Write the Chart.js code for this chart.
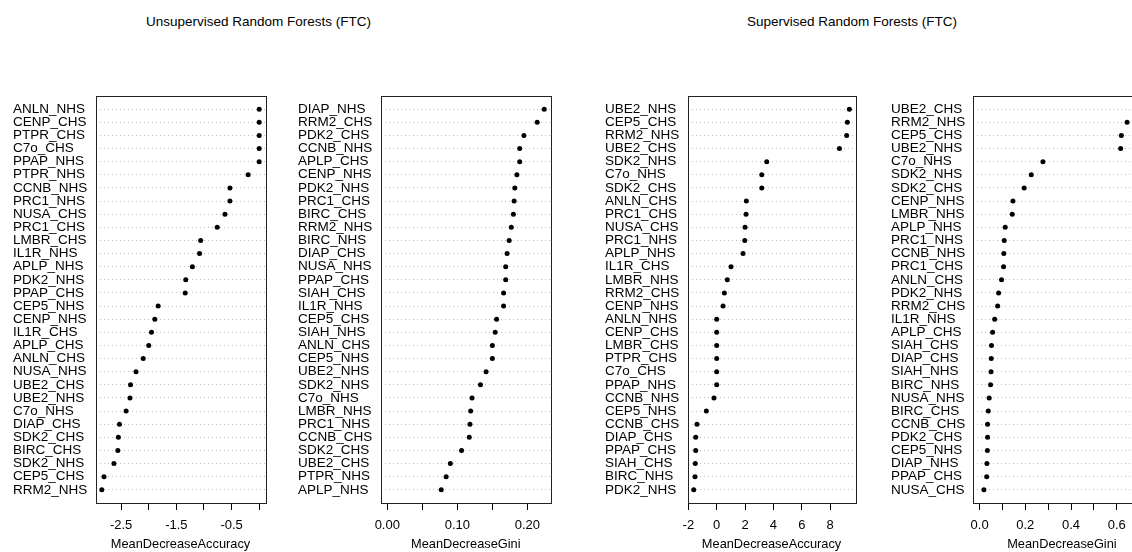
<!DOCTYPE html>
<html>
<head>
<meta charset="utf-8">
<script src="https://cdn.jsdelivr.net/npm/chart.js@4.4.1/dist/chart.umd.min.js"></script>
<style>
  html, body { margin: 0; padding: 0; width: 1132px; height: 552px; overflow: hidden; background: #fff; }
  .title { position: absolute; top: 14px; line-height: 16px; font-size: 13.5px; font-family: "Liberation Sans", Arial, sans-serif; color: #000; white-space: nowrap; }
  canvas { position: absolute; }
</style>
</head>
<body>
<div class="title" style="left:146px">Unsupervised Random Forests (FTC)</div>
<div class="title" style="left:747px">Supervised Random Forests (FTC)</div>
<canvas id="unsupAccChart"></canvas>
<canvas id="unsupGiniChart"></canvas>
<canvas id="supAccChart"></canvas>
<canvas id="supGiniChart"></canvas>
<script>
const FONT = '"Liberation Sans", Arial, sans-serif';

// ================= DATA =================
const unsupAccLabels = ["ANLN_NHS", "CENP_CHS", "PTPR_CHS", "C7o_CHS", "PPAP_NHS", "PTPR_NHS", "CCNB_NHS", "PRC1_NHS", "NUSA_CHS", "PRC1_CHS", "LMBR_CHS", "IL1R_NHS", "APLP_NHS", "PDK2_NHS", "PPAP_CHS", "CEP5_NHS", "CENP_NHS", "IL1R_CHS", "APLP_CHS", "ANLN_CHS", "NUSA_NHS", "UBE2_CHS", "UBE2_NHS", "C7o_NHS", "DIAP_CHS", "SDK2_CHS", "BIRC_CHS", "SDK2_NHS", "CEP5_CHS", "RRM2_NHS"];
const unsupAccValues = [0, 0, 0, 0, 0, -0.2, -0.53, -0.53, -0.62, -0.76, -1.06, -1.08, -1.21, -1.33, -1.34, -1.83, -1.89, -1.95, -2.0, -2.1, -2.23, -2.33, -2.34, -2.41, -2.53, -2.55, -2.56, -2.63, -2.81, -2.85];
const unsupAccTicks = [-2.5, -2, -1.5, -1, -0.5, 0];
const unsupAccTickLabels = ["-2.5", "", "-1.5", "", "-0.5", ""];

const unsupGiniLabels = ["DIAP_NHS", "RRM2_CHS", "PDK2_CHS", "CCNB_NHS", "APLP_CHS", "CENP_NHS", "PDK2_NHS", "PRC1_CHS", "BIRC_CHS", "RRM2_NHS", "BIRC_NHS", "DIAP_CHS", "NUSA_NHS", "PPAP_CHS", "SIAH_CHS", "IL1R_NHS", "CEP5_CHS", "SIAH_NHS", "ANLN_CHS", "CEP5_NHS", "UBE2_NHS", "SDK2_NHS", "C7o_NHS", "LMBR_NHS", "PRC1_NHS", "CCNB_CHS", "SDK2_CHS", "UBE2_CHS", "PTPR_NHS", "APLP_NHS"];
const unsupGiniValues = [0.224, 0.214, 0.195, 0.189, 0.189, 0.185, 0.182, 0.181, 0.18, 0.177, 0.174, 0.171, 0.169, 0.169, 0.166, 0.166, 0.156, 0.154, 0.15, 0.15, 0.141, 0.133, 0.121, 0.119, 0.118, 0.117, 0.106, 0.09, 0.084, 0.077];
const unsupGiniTicks = [0, 0.05, 0.1, 0.15, 0.2];
const unsupGiniTickLabels = ["0.00", "", "0.10", "", "0.20"];

const supAccLabels = ["UBE2_NHS", "CEP5_CHS", "RRM2_NHS", "UBE2_CHS", "SDK2_NHS", "C7o_NHS", "SDK2_CHS", "ANLN_CHS", "PRC1_CHS", "NUSA_CHS", "PRC1_NHS", "APLP_NHS", "IL1R_CHS", "LMBR_NHS", "RRM2_CHS", "CENP_NHS", "ANLN_NHS", "CENP_CHS", "LMBR_CHS", "PTPR_CHS", "C7o_CHS", "PPAP_NHS", "CCNB_NHS", "CEP5_NHS", "CCNB_CHS", "DIAP_CHS", "PPAP_CHS", "SIAH_CHS", "BIRC_NHS", "PDK2_NHS"];
const supAccValues = [9.36, 9.22, 9.17, 8.66, 3.53, 3.18, 3.18, 2.09, 2.07, 2.0, 1.98, 1.86, 1.01, 0.75, 0.54, 0.45, 0, 0, 0, 0, 0, 0, -0.19, -0.73, -1.39, -1.48, -1.48, -1.51, -1.53, -1.62];
const supAccTicks = [-2, 0, 2, 4, 6, 8];
const supAccTickLabels = ["-2", "0", "2", "4", "6", "8"];

const supGiniLabels = ["UBE2_CHS", "RRM2_NHS", "CEP5_CHS", "UBE2_NHS", "C7o_NHS", "SDK2_NHS", "SDK2_CHS", "CENP_NHS", "LMBR_NHS", "APLP_NHS", "PRC1_NHS", "CCNB_NHS", "PRC1_CHS", "ANLN_CHS", "PDK2_NHS", "RRM2_CHS", "IL1R_NHS", "APLP_CHS", "SIAH_CHS", "DIAP_CHS", "SIAH_NHS", "BIRC_NHS", "NUSA_NHS", "BIRC_CHS", "CCNB_CHS", "PDK2_CHS", "CEP5_NHS", "DIAP_NHS", "PPAP_CHS", "NUSA_CHS"];
const supGiniValues = [0.72, 0.645, 0.62, 0.617, 0.277, 0.226, 0.195, 0.146, 0.143, 0.112, 0.108, 0.106, 0.105, 0.096, 0.083, 0.079, 0.066, 0.057, 0.052, 0.051, 0.05, 0.048, 0.042, 0.038, 0.035, 0.035, 0.034, 0.032, 0.031, 0.019];
const supGiniTicks = [0, 0.1, 0.2, 0.3, 0.4, 0.5, 0.6, 0.7];
const supGiniTickLabels = ["0.0", "", "0.2", "", "0.4", "", "0.6", ""];

// ================= PLOT BOX =================
const boxPlugin = {
  id: "plotBox",
  afterDraw(chart) {
    const { ctx, chartArea: a } = chart;
    ctx.save();
    ctx.strokeStyle = "#222";
    ctx.lineWidth = 1;
    ctx.strokeRect(Math.round(a.left) + 0.5, Math.round(a.top) + 0.5,
      Math.round(a.right - a.left), Math.round(a.bottom - a.top));
    ctx.restore();
  },
};

// ================= DOT CHART FUNCTION =================
function createDotChart(p) {
  const canvas = document.getElementById(p.id);
  if (!canvas) return;

  const n = p.labels.length;
  const inner = p.boxRight - p.left;
  const width = Math.ceil(inner) + 6;
  const height = 472;
  canvas.width = width;
  canvas.height = height;
  canvas.style.left = p.left + "px";
  canvas.style.top = "80px";
  canvas.style.width = width + "px";
  canvas.style.height = height + "px";

  // like R dotchart: range extended by 4%, gini starts from zero
  const lo = p.fromZero ? 0 : Math.min(...p.values);
  const hi = Math.max(...p.values);
  const pad = (hi - lo) * 0.04;

  canvas.chart = new Chart(canvas, {
    type: "scatter",
    data: {
      datasets: [
        {
          data: p.values.map((v, i) => ({ x: v, y: i + 1 })),
          backgroundColor: "#000",
          borderWidth: 0,
          pointRadius: 2.5,
          pointHoverRadius: 2.5,
        },
      ],
    },
    options: {
      responsive: false,
      animation: false,
      events: [],
      layout: { padding: { top: 16, right: width - inner, left: 0, bottom: 0 } },
      plugins: {
        legend: { display: false },
        tooltip: { enabled: false },
      },
      scales: {
        x: {
          type: "linear",
          min: lo - pad,
          max: hi + pad,
          afterBuildTicks: (s) => {
            s.ticks = p.ticks.map((v) => ({ value: v }));
          },
          afterFit: (s) => {
            s.height = 49;
          },
          ticks: {
            autoSkip: false,
            maxRotation: 0,
            padding: 8,
            color: "#000",
            font: { family: FONT, size: 13 },
            callback: (v, i) => p.tickLabels[i],
          },
          grid: { drawOnChartArea: false, drawTicks: true, tickLength: 7, tickColor: "#000", color: "#000" },
          border: { display: false },
          title: {
            display: true,
            text: p.title,
            color: "#000",
            font: { family: FONT, size: 12.8 },
            padding: { top: 0, bottom: 0 },
          },
        },
        y: {
          type: "linear",
          reverse: true,
          min: 0,
          max: n + 1,
          afterBuildTicks: (s) => {
            s.ticks = p.labels.map((_, i) => ({ value: i + 1 }));
          },
          afterFit: (s) => {
            s.width = p.axisWidth;
          },
          ticks: {
            autoSkip: false,
            crossAlign: "far",
            color: "#000",
            font: { family: FONT, size: 13.5 },
            callback: (v, i) => p.labels[i],
          },
          grid: { drawTicks: false, color: "#bebebe", lineWidth: 1 },
          border: { display: false, dash: [1, 3] },
        },
      },
    },
    plugins: [boxPlugin],
  });
}

createDotChart({ id: "unsupAccChart", labels: unsupAccLabels, values: unsupAccValues, ticks: unsupAccTicks, tickLabels: unsupAccTickLabels, title: "MeanDecreaseAccuracy", fromZero: false, left: 13, axisWidth: 82.5, boxRight: 265.5 });
createDotChart({ id: "unsupGiniChart", labels: unsupGiniLabels, values: unsupGiniValues, ticks: unsupGiniTicks, tickLabels: unsupGiniTickLabels, title: "MeanDecreaseGini", fromZero: true, left: 298, axisWidth: 83, boxRight: 550.5 });
createDotChart({ id: "supAccChart", labels: supAccLabels, values: supAccValues, ticks: supAccTicks, tickLabels: supAccTickLabels, title: "MeanDecreaseAccuracy", fromZero: false, left: 605, axisWidth: 82.5, boxRight: 855.6 });
createDotChart({ id: "supGiniChart", labels: supGiniLabels, values: supGiniValues, ticks: supGiniTicks, tickLabels: supGiniTickLabels, title: "MeanDecreaseGini", fromZero: true, left: 891, axisWidth: 82, boxRight: 1150.8 });
</script>
</body>
</html>
